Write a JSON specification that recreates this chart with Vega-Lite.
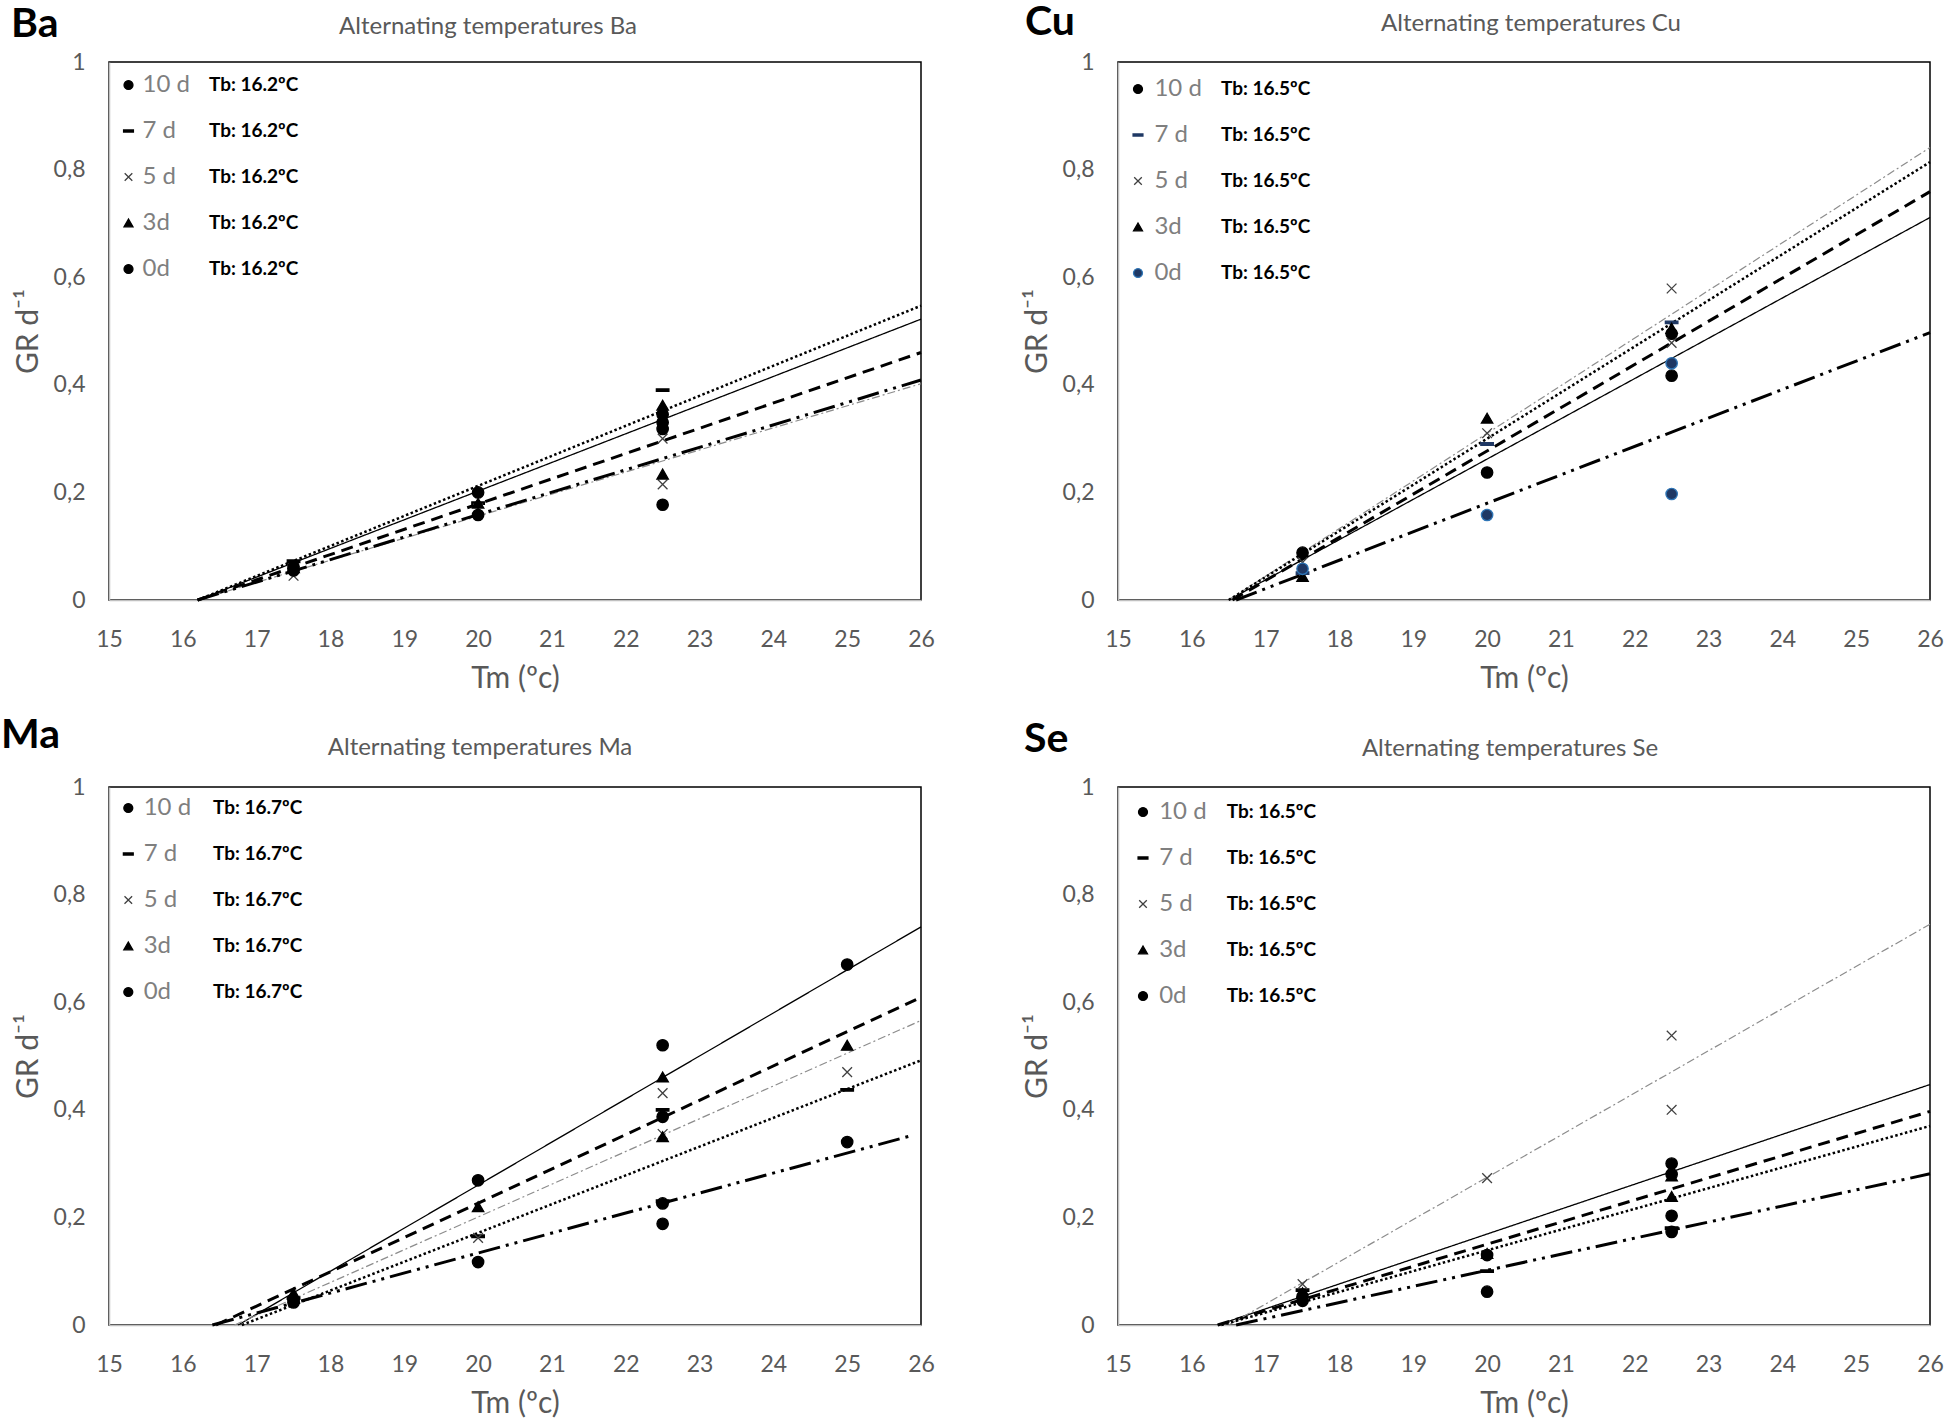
{
  "$schema": "https://vega.github.io/schema/vega-lite/v6.json",
  "padding": {"left": 0, "top": 1, "right": 0, "bottom": 0},
  "background": "white",
  "columns": 2,
  "bounds": "flush",
  "spacing": {"row": 187, "column": 197},
  "config": {
    "font": "Lato",
    "view": {"stroke": "#000000", "strokeWidth": 1.5},
    "axis": {"grid": false, "ticks": false, "tickSize": 0, "domainColor": "#c0c0c0", "domainWidth": 1.5, "labelFont": "Lato", "labelFontSize": 23, "labelColor": "#595959", "titleFont": "Lato", "titleFontSize": 30, "titleFontWeight": "normal", "titleColor": "#595959", "labelOverlap": false},
    "axisX": {"labelPadding": 28, "titlePadding": 12, "labelFlush": false, "format": "d"},
    "axisY": {"labelPadding": 24, "titlePadding": 10},
    "title": {"font": "Lato", "fontSize": 24, "fontWeight": "normal", "color": "#595959", "anchor": "middle", "frame": "group", "offset": 24},
    "legend": {"padding": 0, "labelFont": "Lato", "rowPadding": 22, "titlePadding": 0}
  },
  "resolve": {
    "scale": {"fill": "independent", "stroke": "independent", "shape": "independent", "opacity": "independent", "strokeDash": "independent", "strokeWidth": "independent"},
    "legend": {"fill": "independent", "stroke": "independent", "shape": "independent", "opacity": "independent"}
  },
  "concat": [
    {
      "width": 812, "height": 538,
      "title": {"text": "Alternating temperatures Ba", "dx": -27, "dy": 59},
      "layer": [
        {
          "data": {"values": [
            {"series": "10 d", "tm": 16.2, "gr": 0}, {"series": "10 d", "tm": 26, "gr": 0.522},
            {"series": "7 d", "tm": 16.2, "gr": 0}, {"series": "7 d", "tm": 26, "gr": 0.46},
            {"series": "5 d", "tm": 16.2, "gr": 0}, {"series": "5 d", "tm": 26, "gr": 0.402},
            {"series": "3d", "tm": 16.2, "gr": 0}, {"series": "3d", "tm": 26, "gr": 0.547},
            {"series": "0d", "tm": 16.2, "gr": 0}, {"series": "0d", "tm": 26, "gr": 0.409}
          ]},
          "mark": {"type": "line"},
          "encoding": {
            "x": {"field": "tm", "type": "quantitative", "scale": {"domain": [15, 26], "nice": false}, "axis": {"values": [15,16,17,18,19,20,21,22,23,24,25,26], "title": "Tm (ºc)"}},
            "y": {"field": "gr", "type": "quantitative", "scale": {"domain": [0, 1], "nice": false}, "axis": {"values": [0,0.2,0.4,0.6,0.8,1], "title": "GR d⁻¹", "labelExpr": "datum.value == 0 ? '0' : datum.value == 1 ? '1' : replace(format(datum.value, '.1f'), '.', ',')"}},
            "strokeDash": {"field": "series", "type": "nominal", "scale": {"domain": ["0d","3d","5 d","7 d","10 d"], "range": [[22,6,3,6,3,6],[2.5,2.5],[8,3,2,3],[12,7],[1,0]]}, "legend": null},
            "strokeWidth": {"field": "series", "type": "nominal", "scale": {"type": "ordinal", "domain": ["0d","3d","5 d","7 d","10 d"], "range": [3,2.5,1.2,3,1.3]}, "legend": null},
            "stroke": {"condition": {"test": "datum.series === '5 d'", "value": "#8c8c8c"}, "value": "#000000"},
            "order": {"field": "tm", "type": "quantitative"}
          }
        },
        {
          "data": {"values": [
            {"series": "10 d", "days": 10, "tm": 17.5, "gr": 0.062}, {"series": "10 d", "days": 10, "tm": 20, "gr": 0.2}, {"series": "10 d", "days": 10, "tm": 22.5, "gr": 0.345}, {"series": "10 d", "days": 10, "tm": 22.5, "gr": 0.33},
            {"series": "7 d", "days": 7, "tm": 17.5, "gr": 0.072}, {"series": "7 d", "days": 7, "tm": 20, "gr": 0.18}, {"series": "7 d", "days": 7, "tm": 22.5, "gr": 0.39},
            {"series": "5 d", "days": 5, "tm": 17.5, "gr": 0.045}, {"series": "5 d", "days": 5, "tm": 20, "gr": 0.17}, {"series": "5 d", "days": 5, "tm": 22.5, "gr": 0.3}, {"series": "5 d", "days": 5, "tm": 22.5, "gr": 0.215},
            {"series": "3d", "days": 3, "tm": 17.5, "gr": 0.06}, {"series": "3d", "days": 3, "tm": 20, "gr": 0.18}, {"series": "3d", "days": 3, "tm": 22.5, "gr": 0.362}, {"series": "3d", "days": 3, "tm": 22.5, "gr": 0.234},
            {"series": "0d", "days": 0, "tm": 17.5, "gr": 0.055}, {"series": "0d", "days": 0, "tm": 20, "gr": 0.158}, {"series": "0d", "days": 0, "tm": 22.5, "gr": 0.318}, {"series": "0d", "days": 0, "tm": 22.5, "gr": 0.177}
          ]},
          "mark": {"type": "point", "filled": true, "size": 130, "strokeWidth": 1.3, "opacity": 1},
          "encoding": {
            "x": {"field": "tm", "type": "quantitative"},
            "y": {"field": "gr", "type": "quantitative"},
            "shape": {"field": "series", "type": "nominal", "scale": {"domain": ["10 d","7 d","5 d","3d","0d"], "range": ["circle", "M-1.1,-0.22H1.1V0.22H-1.1Z", "M-0.85,-0.85L0.85,0.85M0.85,-0.85L-0.85,0.85", "triangle-up", "circle"]}, "legend": {"orient": "top-left", "offset": 10.6, "symbolOffset": -3.5, "labelOffset": 2, "title": null, "symbolSize": 80, "labelFontSize": 24, "labelColor": "#7f7f7f", "symbolStrokeWidth": 1.3, "symbolOpacity": 1}},
            "fill": {"field": "series", "type": "nominal", "scale": {"domain": ["10 d","7 d","5 d","3d","0d"], "range": ["#000000","#000000","#404040","#000000","#000000"]}, "legend": {"orient": "top-left", "offset": 10.6, "symbolOffset": -3.5, "labelOffset": 2, "title": null, "symbolSize": 80, "labelFontSize": 24, "labelColor": "#7f7f7f", "symbolStrokeWidth": 1.3, "symbolOpacity": 1}},
            "stroke": {"field": "series", "type": "nominal", "scale": {"domain": ["10 d","7 d","5 d","3d","0d"], "range": ["#000000","#000000","#404040","#000000","#000000"]}, "legend": {"orient": "top-left", "offset": 10.6, "symbolOffset": -3.5, "labelOffset": 2, "title": null, "symbolSize": 80, "labelFontSize": 24, "labelColor": "#7f7f7f", "symbolStrokeWidth": 1.3, "symbolOpacity": 1}},
            "opacity": {"field": "days", "type": "ordinal", "scale": {"type": "ordinal", "domain": [10,7,5,3,0], "range": [1,1,1,1,1]}, "legend": {"orient": "none", "legendX": 76, "legendY": 10.6, "title": null, "symbolSize": 576, "labelOffset": 0, "labelFontSize": 19, "labelFontWeight": "bold", "labelColor": "#000000", "labelExpr": "'Tb: 16.2ºC'", "symbolStrokeWidth": 0, "symbolFillColor": "transparent", "encode": {"symbols": {"update": {"opacity": {"value": 0}}}}}}
          }
        },
        {
          "data": {"values": [{"label": "Ba"}]},
          "mark": {"type": "text", "align": "left", "baseline": "middle", "font": "Lato", "fontSize": 41, "fontWeight": "bold", "color": "#000000"},
          "encoding": {"x": {"datum": 13.672, "type": "quantitative"}, "y": {"datum": 1.0688, "type": "quantitative"}, "text": {"field": "label"}}
        }
      ]
    },
    {
      "width": 812, "height": 538,
      "title": {"text": "Alternating temperatures Cu", "dx": 7, "dy": 58},
      "layer": [
        {
          "data": {"values": [
            {"series": "10 d", "tm": 16.5, "gr": 0}, {"series": "10 d", "tm": 26, "gr": 0.711},
            {"series": "7 d", "tm": 16.55, "gr": 0}, {"series": "7 d", "tm": 26, "gr": 0.759},
            {"series": "5 d", "tm": 16.5, "gr": 0}, {"series": "5 d", "tm": 26, "gr": 0.841},
            {"series": "3d", "tm": 16.5, "gr": 0}, {"series": "3d", "tm": 26, "gr": 0.814},
            {"series": "0d", "tm": 16.6, "gr": 0}, {"series": "0d", "tm": 26, "gr": 0.497}
          ]},
          "mark": {"type": "line"},
          "encoding": {
            "x": {"field": "tm", "type": "quantitative", "scale": {"domain": [15, 26], "nice": false}, "axis": {"values": [15,16,17,18,19,20,21,22,23,24,25,26], "title": "Tm (ºc)"}},
            "y": {"field": "gr", "type": "quantitative", "scale": {"domain": [0, 1], "nice": false}, "axis": {"values": [0,0.2,0.4,0.6,0.8,1], "title": "GR d⁻¹", "labelExpr": "datum.value == 0 ? '0' : datum.value == 1 ? '1' : replace(format(datum.value, '.1f'), '.', ',')"}},
            "strokeDash": {"field": "series", "type": "nominal", "scale": {"domain": ["0d","3d","5 d","7 d","10 d"], "range": [[22,6,3,6,3,6],[2.5,2.5],[8,3,2,3],[12,7],[1,0]]}, "legend": null},
            "strokeWidth": {"field": "series", "type": "nominal", "scale": {"type": "ordinal", "domain": ["0d","3d","5 d","7 d","10 d"], "range": [3,2.5,1.2,3,1.3]}, "legend": null},
            "stroke": {"condition": {"test": "datum.series === '5 d'", "value": "#8c8c8c"}, "value": "#000000"},
            "order": {"field": "tm", "type": "quantitative"}
          }
        },
        {
          "data": {"values": [
            {"series": "10 d", "days": 10, "tm": 17.5, "gr": 0.088}, {"series": "10 d", "days": 10, "tm": 20, "gr": 0.237}, {"series": "10 d", "days": 10, "tm": 22.5, "gr": 0.495}, {"series": "10 d", "days": 10, "tm": 22.5, "gr": 0.417},
            {"series": "7 d", "days": 7, "tm": 17.5, "gr": 0.05}, {"series": "7 d", "days": 7, "tm": 20, "gr": 0.29}, {"series": "7 d", "days": 7, "tm": 22.5, "gr": 0.516},
            {"series": "5 d", "days": 5, "tm": 17.5, "gr": 0.07}, {"series": "5 d", "days": 5, "tm": 20, "gr": 0.31}, {"series": "5 d", "days": 5, "tm": 22.5, "gr": 0.579}, {"series": "5 d", "days": 5, "tm": 22.5, "gr": 0.478},
            {"series": "3d", "days": 3, "tm": 17.5, "gr": 0.044}, {"series": "3d", "days": 3, "tm": 20, "gr": 0.338}, {"series": "3d", "days": 3, "tm": 22.5, "gr": 0.505},
            {"series": "0d", "days": 0, "tm": 17.5, "gr": 0.058}, {"series": "0d", "days": 0, "tm": 20, "gr": 0.158}, {"series": "0d", "days": 0, "tm": 22.5, "gr": 0.44}, {"series": "0d", "days": 0, "tm": 22.5, "gr": 0.197}
          ]},
          "mark": {"type": "point", "filled": true, "size": 130, "strokeWidth": 1.3, "opacity": 1},
          "encoding": {
            "x": {"field": "tm", "type": "quantitative"},
            "y": {"field": "gr", "type": "quantitative"},
            "shape": {"field": "series", "type": "nominal", "scale": {"domain": ["10 d","7 d","5 d","3d","0d"], "range": ["circle", "M-1.1,-0.22H1.1V0.22H-1.1Z", "M-0.85,-0.85L0.85,0.85M0.85,-0.85L-0.85,0.85", "triangle-up", "circle"]}, "legend": {"orient": "top-left", "offset": 14.7, "symbolOffset": -7, "labelOffset": 4.4, "title": null, "symbolSize": 80, "labelFontSize": 24, "labelColor": "#7f7f7f", "symbolStrokeWidth": 1.3, "symbolOpacity": 1}},
            "fill": {"field": "series", "type": "nominal", "scale": {"domain": ["10 d","7 d","5 d","3d","0d"], "range": ["#000000","#1f3864","#404040","#000000","#1f3864"]}, "legend": {"orient": "top-left", "offset": 14.7, "symbolOffset": -7, "labelOffset": 4.4, "title": null, "symbolSize": 80, "labelFontSize": 24, "labelColor": "#7f7f7f", "symbolStrokeWidth": 1.3, "symbolOpacity": 1}},
            "stroke": {"field": "series", "type": "nominal", "scale": {"domain": ["10 d","7 d","5 d","3d","0d"], "range": ["#000000","#1f3864","#404040","#000000","#2e75b6"]}, "legend": {"orient": "top-left", "offset": 14.7, "symbolOffset": -7, "labelOffset": 4.4, "title": null, "symbolSize": 80, "labelFontSize": 24, "labelColor": "#7f7f7f", "symbolStrokeWidth": 1.3, "symbolOpacity": 1}},
            "opacity": {"field": "days", "type": "ordinal", "scale": {"type": "ordinal", "domain": [10,7,5,3,0], "range": [1,1,1,1,1]}, "legend": {"orient": "none", "legendX": 79, "legendY": 14.7, "title": null, "symbolSize": 576, "labelOffset": 0, "labelFontSize": 19, "labelFontWeight": "bold", "labelColor": "#000000", "labelExpr": "'Tb: 16.5ºC'", "symbolStrokeWidth": 0, "symbolFillColor": "transparent", "encode": {"symbols": {"update": {"opacity": {"value": 0}}}}}}
          }
        },
        {
          "data": {"values": [{"label": "Cu"}]},
          "mark": {"type": "text", "align": "left", "baseline": "middle", "font": "Lato", "fontSize": 41, "fontWeight": "bold", "color": "#000000"},
          "encoding": {"x": {"datum": 13.74, "type": "quantitative"}, "y": {"datum": 1.072, "type": "quantitative"}, "text": {"field": "label"}}
        }
      ]
    },
    {
      "width": 812, "height": 538,
      "title": {"text": "Alternating temperatures  Ma", "dx": -35, "dy": 69},
      "layer": [
        {
          "data": {"values": [
            {"series": "10 d", "tm": 16.75, "gr": 0}, {"series": "10 d", "tm": 26, "gr": 0.74},
            {"series": "7 d", "tm": 16.45, "gr": 0}, {"series": "7 d", "tm": 26, "gr": 0.609},
            {"series": "5 d", "tm": 16.7, "gr": 0}, {"series": "5 d", "tm": 26, "gr": 0.566},
            {"series": "3d", "tm": 16.8, "gr": 0}, {"series": "3d", "tm": 26, "gr": 0.492},
            {"series": "0d", "tm": 16.4, "gr": 0}, {"series": "0d", "tm": 25.9, "gr": 0.353}
          ]},
          "mark": {"type": "line"},
          "encoding": {
            "x": {"field": "tm", "type": "quantitative", "scale": {"domain": [15, 26], "nice": false}, "axis": {"values": [15,16,17,18,19,20,21,22,23,24,25,26], "title": "Tm (ºc)"}},
            "y": {"field": "gr", "type": "quantitative", "scale": {"domain": [0, 1], "nice": false}, "axis": {"values": [0,0.2,0.4,0.6,0.8,1], "title": "GR d⁻¹", "labelExpr": "datum.value == 0 ? '0' : datum.value == 1 ? '1' : replace(format(datum.value, '.1f'), '.', ',')"}},
            "strokeDash": {"field": "series", "type": "nominal", "scale": {"domain": ["0d","3d","5 d","7 d","10 d"], "range": [[22,6,3,6,3,6],[2.5,2.5],[8,3,2,3],[12,7],[1,0]]}, "legend": null},
            "strokeWidth": {"field": "series", "type": "nominal", "scale": {"type": "ordinal", "domain": ["0d","3d","5 d","7 d","10 d"], "range": [3,2.5,1.2,3,1.3]}, "legend": null},
            "stroke": {"condition": {"test": "datum.series === '5 d'", "value": "#8c8c8c"}, "value": "#000000"},
            "order": {"field": "tm", "type": "quantitative"}
          }
        },
        {
          "data": {"values": [
            {"series": "10 d", "days": 10, "tm": 17.5, "gr": 0.046}, {"series": "10 d", "days": 10, "tm": 20, "gr": 0.269}, {"series": "10 d", "days": 10, "tm": 22.5, "gr": 0.52}, {"series": "10 d", "days": 10, "tm": 25, "gr": 0.67},
            {"series": "7 d", "days": 7, "tm": 17.5, "gr": 0.05}, {"series": "7 d", "days": 7, "tm": 20, "gr": 0.165}, {"series": "7 d", "days": 7, "tm": 22.5, "gr": 0.4}, {"series": "7 d", "days": 7, "tm": 22.5, "gr": 0.23}, {"series": "7 d", "days": 7, "tm": 25, "gr": 0.437},
            {"series": "5 d", "days": 5, "tm": 20, "gr": 0.162}, {"series": "5 d", "days": 5, "tm": 22.5, "gr": 0.431}, {"series": "5 d", "days": 5, "tm": 22.5, "gr": 0.355}, {"series": "5 d", "days": 5, "tm": 25, "gr": 0.47},
            {"series": "3d", "days": 3, "tm": 17.5, "gr": 0.059}, {"series": "3d", "days": 3, "tm": 20, "gr": 0.22}, {"series": "3d", "days": 3, "tm": 22.5, "gr": 0.461}, {"series": "3d", "days": 3, "tm": 22.5, "gr": 0.35}, {"series": "3d", "days": 3, "tm": 25, "gr": 0.52},
            {"series": "0d", "days": 0, "tm": 17.5, "gr": 0.042}, {"series": "0d", "days": 0, "tm": 20, "gr": 0.117}, {"series": "0d", "days": 0, "tm": 22.5, "gr": 0.387}, {"series": "0d", "days": 0, "tm": 22.5, "gr": 0.226}, {"series": "0d", "days": 0, "tm": 22.5, "gr": 0.188}, {"series": "0d", "days": 0, "tm": 25, "gr": 0.34}
          ]},
          "mark": {"type": "point", "filled": true, "size": 130, "strokeWidth": 1.3, "opacity": 1},
          "encoding": {
            "x": {"field": "tm", "type": "quantitative"},
            "y": {"field": "gr", "type": "quantitative"},
            "shape": {"field": "series", "type": "nominal", "scale": {"domain": ["10 d","7 d","5 d","3d","0d"], "range": ["circle", "M-1.1,-0.22H1.1V0.22H-1.1Z", "M-0.85,-0.85L0.85,0.85M0.85,-0.85L-0.85,0.85", "triangle-up", "circle"]}, "legend": {"orient": "top-left", "offset": 8.8, "symbolOffset": -1.7, "labelOffset": 3.4, "title": null, "symbolSize": 80, "labelFontSize": 24, "labelColor": "#7f7f7f", "symbolStrokeWidth": 1.3, "symbolOpacity": 1}},
            "fill": {"field": "series", "type": "nominal", "scale": {"domain": ["10 d","7 d","5 d","3d","0d"], "range": ["#000000","#000000","#404040","#000000","#000000"]}, "legend": {"orient": "top-left", "offset": 8.8, "symbolOffset": -1.7, "labelOffset": 3.4, "title": null, "symbolSize": 80, "labelFontSize": 24, "labelColor": "#7f7f7f", "symbolStrokeWidth": 1.3, "symbolOpacity": 1}},
            "stroke": {"field": "series", "type": "nominal", "scale": {"domain": ["10 d","7 d","5 d","3d","0d"], "range": ["#000000","#000000","#404040","#000000","#000000"]}, "legend": {"orient": "top-left", "offset": 8.8, "symbolOffset": -1.7, "labelOffset": 3.4, "title": null, "symbolSize": 80, "labelFontSize": 24, "labelColor": "#7f7f7f", "symbolStrokeWidth": 1.3, "symbolOpacity": 1}},
            "opacity": {"field": "days", "type": "ordinal", "scale": {"type": "ordinal", "domain": [10,7,5,3,0], "range": [1,1,1,1,1]}, "legend": {"orient": "none", "legendX": 80, "legendY": 8.8, "title": null, "symbolSize": 576, "labelOffset": 0, "labelFontSize": 19, "labelFontWeight": "bold", "labelColor": "#000000", "labelExpr": "'Tb: 16.7ºC'", "symbolStrokeWidth": 0, "symbolFillColor": "transparent", "encode": {"symbols": {"update": {"opacity": {"value": 0}}}}}}
          }
        },
        {
          "data": {"values": [{"label": "Ma"}]},
          "mark": {"type": "text", "align": "left", "baseline": "middle", "font": "Lato", "fontSize": 41, "fontWeight": "bold", "color": "#000000"},
          "encoding": {"x": {"datum": 13.537, "type": "quantitative"}, "y": {"datum": 1.095, "type": "quantitative"}, "text": {"field": "label"}}
        }
      ]
    },
    {
      "width": 812, "height": 538,
      "title": {"text": "Alternating temperatures Se", "dx": -14, "dy": 66},
      "layer": [
        {
          "data": {"values": [
            {"series": "10 d", "tm": 16.35, "gr": 0}, {"series": "10 d", "tm": 26, "gr": 0.447},
            {"series": "7 d", "tm": 16.35, "gr": 0}, {"series": "7 d", "tm": 26, "gr": 0.397},
            {"series": "5 d", "tm": 16.5, "gr": 0}, {"series": "5 d", "tm": 26, "gr": 0.745},
            {"series": "3d", "tm": 16.4, "gr": 0}, {"series": "3d", "tm": 26, "gr": 0.37},
            {"series": "0d", "tm": 16.6, "gr": 0}, {"series": "0d", "tm": 26, "gr": 0.281}
          ]},
          "mark": {"type": "line"},
          "encoding": {
            "x": {"field": "tm", "type": "quantitative", "scale": {"domain": [15, 26], "nice": false}, "axis": {"values": [15,16,17,18,19,20,21,22,23,24,25,26], "title": "Tm (ºc)"}},
            "y": {"field": "gr", "type": "quantitative", "scale": {"domain": [0, 1], "nice": false}, "axis": {"values": [0,0.2,0.4,0.6,0.8,1], "title": "GR d⁻¹", "labelExpr": "datum.value == 0 ? '0' : datum.value == 1 ? '1' : replace(format(datum.value, '.1f'), '.', ',')"}},
            "strokeDash": {"field": "series", "type": "nominal", "scale": {"domain": ["0d","3d","5 d","7 d","10 d"], "range": [[22,6,3,6,3,6],[2.5,2.5],[8,3,2,3],[12,7],[1,0]]}, "legend": null},
            "strokeWidth": {"field": "series", "type": "nominal", "scale": {"type": "ordinal", "domain": ["0d","3d","5 d","7 d","10 d"], "range": [3,2.5,1.2,3,1.3]}, "legend": null},
            "stroke": {"condition": {"test": "datum.series === '5 d'", "value": "#8c8c8c"}, "value": "#000000"},
            "order": {"field": "tm", "type": "quantitative"}
          }
        },
        {
          "data": {"values": [
            {"series": "10 d", "days": 10, "tm": 17.5, "gr": 0.053}, {"series": "10 d", "days": 10, "tm": 20, "gr": 0.13}, {"series": "10 d", "days": 10, "tm": 22.5, "gr": 0.3}, {"series": "10 d", "days": 10, "tm": 22.5, "gr": 0.28},
            {"series": "7 d", "days": 7, "tm": 17.5, "gr": 0.065}, {"series": "7 d", "days": 7, "tm": 20, "gr": 0.1}, {"series": "7 d", "days": 7, "tm": 22.5, "gr": 0.18},
            {"series": "5 d", "days": 5, "tm": 17.5, "gr": 0.076}, {"series": "5 d", "days": 5, "tm": 20, "gr": 0.273}, {"series": "5 d", "days": 5, "tm": 22.5, "gr": 0.538}, {"series": "5 d", "days": 5, "tm": 22.5, "gr": 0.4},
            {"series": "3d", "days": 3, "tm": 17.5, "gr": 0.06}, {"series": "3d", "days": 3, "tm": 20, "gr": 0.133}, {"series": "3d", "days": 3, "tm": 22.5, "gr": 0.277}, {"series": "3d", "days": 3, "tm": 22.5, "gr": 0.239},
            {"series": "0d", "days": 0, "tm": 17.5, "gr": 0.045}, {"series": "0d", "days": 0, "tm": 20, "gr": 0.062}, {"series": "0d", "days": 0, "tm": 22.5, "gr": 0.203}, {"series": "0d", "days": 0, "tm": 22.5, "gr": 0.173}
          ]},
          "mark": {"type": "point", "filled": true, "size": 130, "strokeWidth": 1.3, "opacity": 1},
          "encoding": {
            "x": {"field": "tm", "type": "quantitative"},
            "y": {"field": "gr", "type": "quantitative"},
            "shape": {"field": "series", "type": "nominal", "scale": {"domain": ["10 d","7 d","5 d","3d","0d"], "range": ["circle", "M-1.1,-0.22H1.1V0.22H-1.1Z", "M-0.85,-0.85L0.85,0.85M0.85,-0.85L-0.85,0.85", "triangle-up", "circle"]}, "legend": {"orient": "top-left", "offset": 12.5, "symbolOffset": 0, "labelOffset": 4.2, "title": null, "symbolSize": 80, "labelFontSize": 24, "labelColor": "#7f7f7f", "symbolStrokeWidth": 1.3, "symbolOpacity": 1}},
            "fill": {"field": "series", "type": "nominal", "scale": {"domain": ["10 d","7 d","5 d","3d","0d"], "range": ["#000000","#000000","#404040","#000000","#000000"]}, "legend": {"orient": "top-left", "offset": 12.5, "symbolOffset": 0, "labelOffset": 4.2, "title": null, "symbolSize": 80, "labelFontSize": 24, "labelColor": "#7f7f7f", "symbolStrokeWidth": 1.3, "symbolOpacity": 1}},
            "stroke": {"field": "series", "type": "nominal", "scale": {"domain": ["10 d","7 d","5 d","3d","0d"], "range": ["#000000","#000000","#404040","#000000","#000000"]}, "legend": {"orient": "top-left", "offset": 12.5, "symbolOffset": 0, "labelOffset": 4.2, "title": null, "symbolSize": 80, "labelFontSize": 24, "labelColor": "#7f7f7f", "symbolStrokeWidth": 1.3, "symbolOpacity": 1}},
            "opacity": {"field": "days", "type": "ordinal", "scale": {"type": "ordinal", "domain": [10,7,5,3,0], "range": [1,1,1,1,1]}, "legend": {"orient": "none", "legendX": 84.7, "legendY": 12.5, "title": null, "symbolSize": 576, "labelOffset": 0, "labelFontSize": 19, "labelFontWeight": "bold", "labelColor": "#000000", "labelExpr": "'Tb: 16.5ºC'", "symbolStrokeWidth": 0, "symbolFillColor": "transparent", "encode": {"symbols": {"update": {"opacity": {"value": 0}}}}}}
          }
        },
        {
          "data": {"values": [{"label": "Se"}]},
          "mark": {"type": "text", "align": "left", "baseline": "middle", "font": "Lato", "fontSize": 41, "fontWeight": "bold", "color": "#000000"},
          "encoding": {"x": {"datum": 13.727, "type": "quantitative"}, "y": {"datum": 1.087, "type": "quantitative"}, "text": {"field": "label"}}
        }
      ]
    }
  ]
}
